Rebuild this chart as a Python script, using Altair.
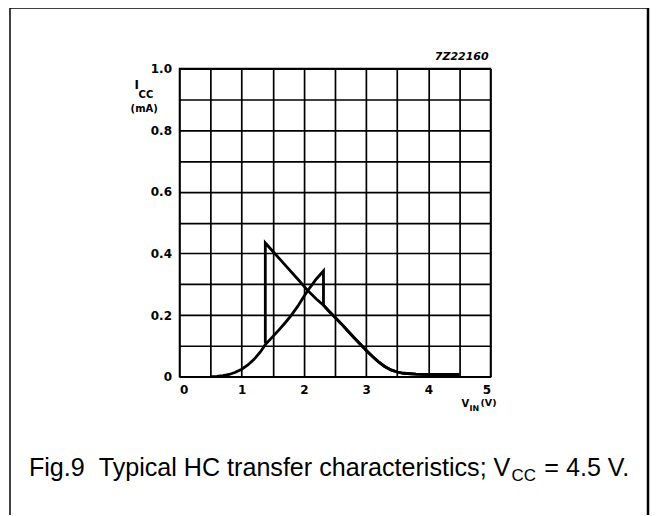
import altair as alt
import pandas as pd

# ---- data ----
rise_v = [0.50, 0.60, 0.70, 0.80, 0.90, 1.00, 1.10, 1.20, 1.30, 1.38, 1.50, 1.60, 1.70, 1.80, 1.90,
          2.00, 2.10, 2.20, 2.315, 2.315, 2.40, 2.50, 2.60, 2.70, 2.80, 2.90, 3.00, 3.10, 3.20, 3.30,
          3.40, 3.50, 3.60, 3.80, 4.00, 4.50]
rise_i = [0.000, 0.001, 0.003, 0.007, 0.014, 0.024, 0.038, 0.056, 0.080, 0.104, 0.130, 0.152, 0.175,
          0.200, 0.228, 0.260, 0.290, 0.317, 0.343, 0.232, 0.213, 0.193, 0.172, 0.150, 0.128, 0.107,
          0.086, 0.066, 0.048, 0.033, 0.022, 0.015, 0.011, 0.008, 0.007, 0.007]
fall_v = [4.50, 4.00, 3.80, 3.60, 3.50, 3.40, 3.30, 3.20, 3.10, 3.00, 2.90, 2.80, 2.70, 2.60, 2.50,
          2.40, 2.315, 2.20, 2.06, 1.90, 1.70, 1.50, 1.38, 1.38]
fall_i = [0.007, 0.007, 0.008, 0.011, 0.015, 0.022, 0.033, 0.048, 0.066, 0.086, 0.107, 0.128, 0.150,
          0.172, 0.193, 0.213, 0.232, 0.252, 0.280, 0.317, 0.362, 0.407, 0.434, 0.108]

x_grid = [0, 0.5, 1, 1.5, 2, 2.5, 3, 3.5, 4, 4.5, 5]
y_grid = [0, 0.1, 0.2, 0.3, 0.4, 0.5, 0.6, 0.7, 0.8, 0.9, 1.0]

code_text = "7Z22160"
ylabel_parts = ["I", "CC", "(mA)"]
xlabel_parts = ["V", "IN", "(V)"]
caption_parts = ["Fig.9\u00a0\u00a0Typical HC transfer characteristics; V", "CC", "=\u00a04.5\u00a0V."]

rows = []
for k, (v, i) in enumerate(zip(rise_v, rise_i)):
    rows.append({"vin": v, "icc": i, "sweep": "rise", "step": k})
for k, (v, i) in enumerate(zip(fall_v, fall_i)):
    rows.append({"vin": v, "icc": i, "sweep": "fall", "step": k})
df = pd.DataFrame(rows)

xscale = alt.Scale(domain=[0, 5], nice=False, zero=False)
yscale = alt.Scale(domain=[0, 1], nice=False, zero=False)

x_axis = alt.Axis(values=x_grid, title=None, grid=True, ticks=False, domain=False,
                  labelExpr="datum.value % 1 == 0 ? format(datum.value, 'd') : ''",
                  labelPadding=8, labelBaseline="top", labelFont="DejaVu Sans",
                  labelFontWeight="bold", labelFontSize=12, labelColor="black")
y_axis = alt.Axis(values=y_grid, title=None, grid=True, ticks=False, domain=False,
                  labelExpr="datum.value == 0 ? '0' : (round(datum.value*10) % 2 == 0 ? format(datum.value, '.1f') : '')",
                  labelPadding=8, labelFont="DejaVu Sans", labelFontWeight="bold",
                  labelFontSize=12, labelColor="black")

curves = alt.Chart(df).mark_line(color="black", strokeWidth=2.8, strokeJoin="miter").encode(
    x=alt.X("vin:Q", scale=xscale, axis=x_axis),
    y=alt.Y("icc:Q", scale=yscale, axis=y_axis),
    detail="sweep:N",
    order="step:Q",
)

one = alt.Data(values=[{"a": 1}])


def txt(s, x, y, size, font="DejaVu Sans", weight="bold", style="normal", align="left"):
    return alt.Chart(one).mark_text(text=s, font=font, fontSize=size, fontWeight=weight,
                                    fontStyle=style, align=align, baseline="alphabetic",
                                    color="black").encode(x=alt.value(x), y=alt.value(y))


texts = [
    txt(code_text, 310, -9, 11, style="italic", align="right"),
    txt(ylabel_parts[0], -45, 20, 12),
    txt(ylabel_parts[1], -41, 29, 10),
    txt(ylabel_parts[2], -49, 44, 10),
    txt(xlabel_parts[0], 283, 339, 10),
    txt(xlabel_parts[1], 291, 343, 8),
    txt(xlabel_parts[2], 302, 338, 9.5),
    txt(caption_parts[0], -151, 409, 25.2, font="Liberation Sans", weight="normal"),
    txt(caption_parts[1], 333, 414, 17, font="Liberation Sans", weight="normal"),
    txt(caption_parts[2], 366, 409, 25.2, font="Liberation Sans", weight="normal"),
]

frame_left = alt.Chart(one).mark_rule(color="black", strokeWidth=1.5).encode(
    x=alt.value(-170), y=alt.value(-61), y2=alt.value(470))
frame_top = alt.Chart(one).mark_rule(color="black", strokeWidth=2).encode(
    x=alt.value(-170), x2=alt.value(470), y=alt.value(-61))
frame_right = alt.Chart(one).mark_rule(color="black", strokeWidth=2.5).encode(
    x=alt.value(470), y=alt.value(-61), y2=alt.value(470))

chart = alt.layer(curves, frame_left, frame_top, frame_right, *texts).properties(
    width=312, height=309,
    autosize=alt.AutoSizeParams(type="none"),
    padding={"left": 172, "top": 60, "right": 160, "bottom": 138},
    background="white",
).configure_view(stroke="black", strokeWidth=1.5).configure_axis(
    gridColor="black", gridWidth=1.7, gridOpacity=1
)

chart.save("out.html", embed_options={"renderer": "svg", "actions": False})
